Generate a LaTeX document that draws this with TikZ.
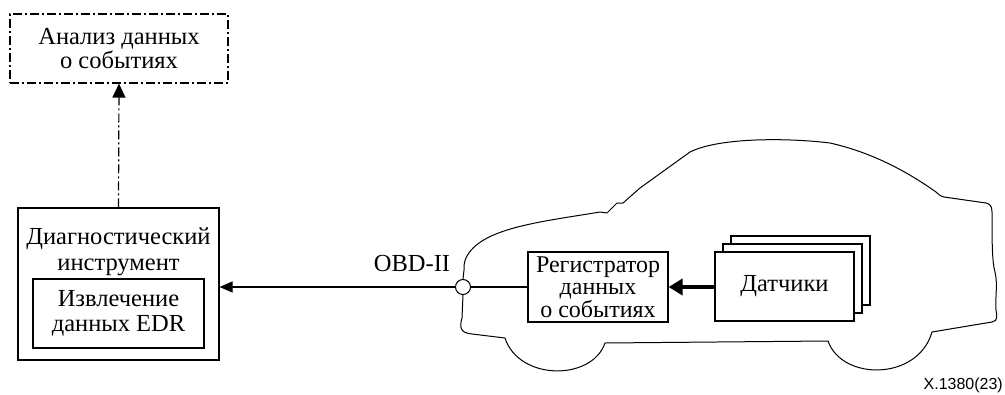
\documentclass[tikz,border=0pt]{standalone}
\usepackage{fontspec}
\setmainfont{Liberation Serif}
\setsansfont{Liberation Sans}
\usetikzlibrary{arrows.meta}
\begin{document}
\begin{tikzpicture}[x=1pt,y=-1pt,
  txt/.style={font=\fontsize{24.5}{25.5}\selectfont, align=center, inner sep=0pt},
  box/.style={txt, draw, line width=1.1pt, fill=white},
  dashdot/.style={line width=1.2pt, dash pattern=on 9pt off 3pt on 2pt off 3pt},
  link/.style={line width=1.1pt},
  tip/.style={-{Triangle[length=13pt,width=11pt]}},
  bigtip/.style={-{Triangle[length=14pt,width=16pt]}},
  carline/.style={line width=1pt, line join=round}]
\useasboundingbox (0,0) rectangle (1005,394);

% analysis box (dash-dot)
\node[txt, draw, dashdot, minimum width=218pt, minimum height=69pt,
      font=\fontsize{24.5}{23.5}\selectfont] (analysis) at (119,48.5)
      {Анализ данных\\о событиях};

% diagnostic tool with the EDR extraction block inside
\node[draw, line width=1.1pt, minimum width=201pt, minimum height=152pt, inner sep=0pt]
      (diag) at (118.5,284) {};
\node[txt, font=\fontsize{24.5}{26}\selectfont] (diaglabel) at (118.5,252)
      {Диагностический\\инструмент};
\node[box, minimum width=171pt, minimum height=69pt] (edr) at (118.5,313.5)
      {Извлечение\\данных EDR};

% car body outline, passing through the OBD-II connector
\node[draw, circle, line width=1pt, fill=white, minimum size=15pt, inner sep=0pt]
      (obd) at (463,287) {};
\draw[carline] (obd.south) -- (462,318)
  .. controls (459,328) and (461,333) .. (472,334)
  -- (505,338) .. controls (519,381) and (592,381) .. (605,343)
  -- (828,341) .. controls (842,381) and (918,381) .. (932,332)
  -- (992,322) .. controls (998,321) and (997,316) .. (996,310)
  .. controls (995,297) and (998,285) .. (995,272)
  .. controls (992,262) and (992,240) .. (992,212)
  .. controls (992,206) and (990,204) .. (986,203)
  -- (944,197) .. controls (940,196) and (938,194) .. (936,192)
  .. controls (905,170) and (870,152) .. (830,143)
  .. controls (790,138) and (720,137) .. (690,152)
  -- (640,188) -- (623,203) -- (617,203) -- (607,213) -- (600,212)
  .. controls (540,222) and (480,228) .. (466,258)
  .. controls (464,262) and (464,266) .. (464,270)
  -- (obd.north);

\node[txt] (obdlabel) at (412,264) {OBD-II};

% event data recorder
\node[box, minimum width=140pt, minimum height=70pt, font=\fontsize{24}{22.5}\selectfont]
      (edrbox) at (598,287) {Регистратор\\данных\\о событиях};

% stacked sensor boxes
\node[box, minimum width=139pt, minimum height=69pt] (sens3) at (800.5,270.5) {};
\node[box, minimum width=139pt, minimum height=69pt] (sens2) at (792.5,278.5) {};
\node[box, minimum width=139pt, minimum height=69pt] (sens) at (784.5,286.5) {Датчики};

% connections
\draw[link, bigtip, line width=3.5pt] (sens.west |- edrbox) -- (edrbox.east);
\draw[link] (obd.east) -- (edrbox.west |- obd);
\draw[link, tip] (obd.west) -- (obd -| diag.east);
\draw[dashdot, -{Triangle[length=14pt,width=13pt]}] (diag.north) -- (analysis.south);

\node[font=\sffamily\fontsize{16}{16}\selectfont, anchor=base east, inner sep=0pt]
      (code) at (1003,389) {X.1380(23)};
\end{tikzpicture}
\end{document}
